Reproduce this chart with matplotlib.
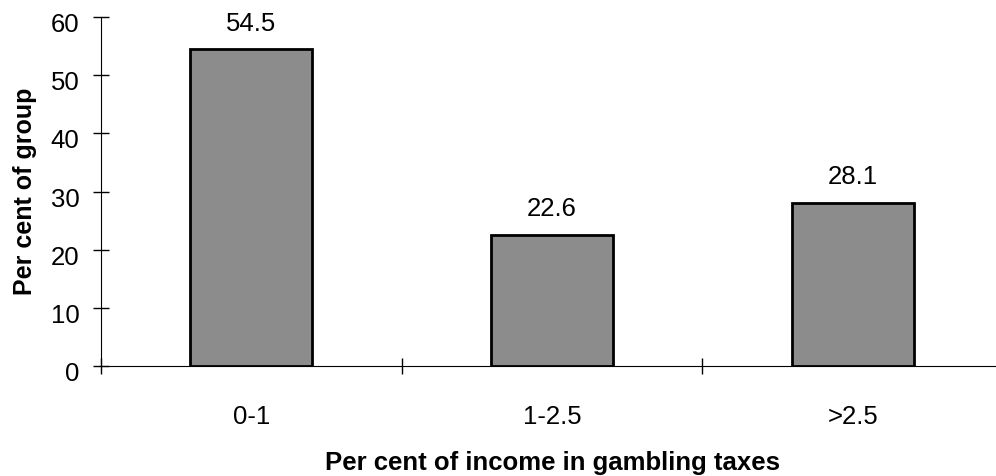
import matplotlib
matplotlib.use("Agg")
import matplotlib.pyplot as plt
import matplotlib.transforms as mtransforms

categories = ["0-1", "1-2.5", ">2.5"]
values = [54.5, 22.6, 28.1]

plt.rcParams['font.family'] = ['Liberation Sans', 'DejaVu Sans']

fig = plt.figure(figsize=(9.96, 4.76), dpi=100)
ax = fig.add_axes([101 / 996, 110 / 476, (1003 - 101) / 996, 349 / 476])

x = list(range(len(categories)))
ax.bar(x, values, width=0.405, color="#8c8c8c", edgecolor="black", linewidth=2)

# 柱子上方的数值
for xi, v in zip(x, values):
    ax.annotate(f"{v}", (xi, v), xytext=(0, 13), textcoords="offset points",
                ha="center", va="baseline", fontsize=18.5)

ax.set_xlim(-0.5, len(categories) - 0.5)
ax.set_ylim(0, 60)
ax.set_yticks(range(0, 61, 10))
ax.tick_params(axis="y", direction="inout", length=11, width=1, labelsize=18.5, pad=10)
shift = mtransforms.ScaledTranslation(0, -4 / 72, fig.dpi_scale_trans)
for lab in ax.get_yticklabels():
    lab.set_transform(lab.get_transform() + shift)

# x轴刻度放在分组之间，标签放在中心
ax.set_xticks([-0.5, 0.5, 1.5])
ax.set_xticklabels([])
ax.set_xticks(x, minor=True)
ax.set_xticklabels(categories, minor=True, fontsize=18.5)
ax.tick_params(axis="x", which="major", direction="inout", length=11, width=1)
ax.tick_params(axis="x", which="minor", length=0, pad=28)

for s in ["top", "right"]:
    ax.spines[s].set_visible(False)

ax.set_ylabel("Per cent of group", fontsize=18, fontweight="bold", labelpad=10)
ax.set_xlabel("Per cent of income in gambling taxes", fontsize=18.5, fontweight="bold", labelpad=16)

fig.savefig("out.png", dpi=100)
